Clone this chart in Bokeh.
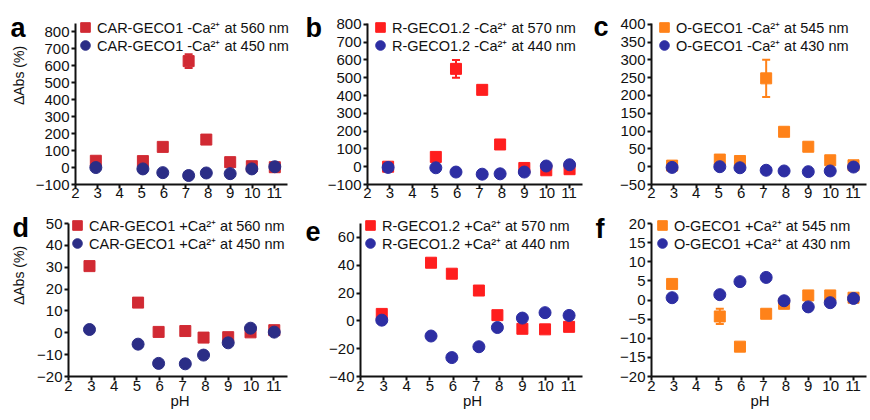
import math
from bokeh.plotting import figure
from bokeh.models import (ColumnDataSource, Whisker, Label, Legend, LegendItem,
                          Range1d, TeeHead)
from bokeh.layouts import column, row
from bokeh.embed import file_html
from bokeh.resources import INLINE
from bokeh.core.validation import silence
from bokeh.core.validation.warnings import MISSING_RENDERERS

silence(MISSING_RENDERERS, True)

FONT = "Liberation Sans"

# ---------------- data ----------------
ph = [2.92, 5.05, 5.95, 7.12, 7.92, 9.0, 9.98, 11.02]
x_ticks = [2, 3, 4, 5, 6, 7, 8, 9, 10, 11]

# a: CAR-GECO1 -Ca2+
a_red = [40, 38, 122, 628, 165, 32, 8, 2]
a_red_err = [0, 0, 0, 40, 0, 0, 0, 0]
a_blue = [0, -8, -30, -47, -32, -36, -8, 5]
a_ticks = [-100, 0, 100, 200, 300, 400, 500, 600, 700, 800]

# b: R-GECO1.2 -Ca2+
b_red = [0, 55, 550, 432, 125, -7, -20, -14]
b_red_err = [0, 0, 50, 0, 0, 0, 0, 0]
b_blue = [-4, -6, -30, -42, -40, -30, 4, 11]
b_ticks = [-100, 0, 100, 200, 300, 400, 500, 600, 700, 800]

# c: O-GECO1 -Ca2+
c_orange = [3, 20, 16, 248, 98, 56, 18, 4]
c_orange_err = [0, 0, 0, 52, 0, 0, 0, 0]
c_blue = [-2, 0, -3, -10, -12, -14, -12, -1]
c_ticks = [-50, 0, 50, 100, 150, 200, 250, 300, 350, 400]

# d: CAR-GECO1 +Ca2+
d_red = [30.5, 13.8, 0.4, 0.8, -2.2, -2.0, 0.2, 1.2]
d_red_err = [0, 0, 0, 0, 0, 0, 0, 0]
d_blue = [1.5, -5.2, -14, -14.2, -10.2, -4.6, 2.1, 0.3]
d_ticks = [-20, -10, 0, 10, 20, 30, 40, 50]

# e: R-GECO1.2 +Ca2+
e_red = [5, 41.8, 33.9, 21.8, 4.1, -5.7, -6.1, -4.3]
e_red_err = [0, 0, 0, 0, 0, 0, 0, 0]
e_blue = [0.5, -10.9, -26.4, -18.6, -4.8, 2, 5.9, 3.9]
e_ticks = [-40, -20, 0, 20, 40, 60]

# f: O-GECO1 +Ca2+
f_orange = [4.2, -4.3, -12.2, -3.6, -1.0, 1.2, 1.2, 0.6]
f_orange_err = [0, 2, 0, 0, 0, 0, 0, 0]
f_blue = [0.6, 1.4, 4.8, 5.9, -0.2, -1.8, -0.7, 0.4]
f_ticks = [-20, -15, -10, -5, 0, 5, 10, 15, 20]

labels = {
    "a": ("CAR-GECO1 -Ca²⁺ at 560 nm", "CAR-GECO1 -Ca²⁺ at 450 nm"),
    "b": ("R-GECO1.2 -Ca²⁺ at 570 nm", "R-GECO1.2 -Ca²⁺ at 440 nm"),
    "c": ("O-GECO1 -Ca²⁺ at 545 nm", "O-GECO1 -Ca²⁺ at 430 nm"),
    "d": ("CAR-GECO1 +Ca²⁺ at 560 nm", "CAR-GECO1 +Ca²⁺ at 450 nm"),
    "e": ("R-GECO1.2 +Ca²⁺ at 570 nm", "R-GECO1.2 +Ca²⁺ at 440 nm"),
    "f": ("O-GECO1 +Ca²⁺ at 545 nm", "O-GECO1 +Ca²⁺ at 430 nm"),
}

CRIMSON = "#d12a33"
RED = "#ff1e1e"
ORANGE = "#ff8219"
NAVY = "#2b2d86"
BLUE = "#2d2ea3"
INK = "#111111"

# ---------------- layout (screen pixels, page origin at 0,0) ----------------
COLS = [dict(left=0, strip=32, bl=36, fw=223, axis=219),
        dict(left=291, strip=33, bl=36, fw=224, axis=222),
        dict(left=584, strip=31, bl=36, fw=217, axis=215)]
ROWS = [dict(top=0, h=213, bb=29, axis_top=23, s1=-1, s2=0),
        dict(top=213, h=207, bb=44, axis_top=223, s1=0, s2=-2)]
LEG_ROW = 24
STRIP_DY = 11


def frame_left(c):
    return c["left"] + c["strip"] + c["bl"]


def frame_bottom(r):
    return r["top"] + r["h"] - r["bb"]


def strip(col, rw, letter, let_x, let_base, ylab_center=None):
    c, r = COLS[col], ROWS[rw]
    fb = frame_bottom(r)
    s = figure(width=c["strip"], height=r["h"], x_range=Range1d(0, 1), y_range=Range1d(0, 1),
               x_axis_location=None, y_axis_location=None, output_backend="svg",
               toolbar_location=None, min_border_left=0, min_border_right=0,
               min_border_top=0, min_border_bottom=r["bb"])
    s.outline_line_color = None
    s.grid.visible = False
    s.background_fill_color = "white"
    s.border_fill_color = "white"
    s.add_layout(Label(x=let_x - c["left"], y=fb - let_base + STRIP_DY,
                       x_units="screen", y_units="screen", text=letter,
                       text_font=FONT, text_font_size="27px", text_font_style="bold",
                       text_color="#000000", text_baseline="alphabetic",
                       text_align="left"))
    if ylab_center is not None:
        s.add_layout(Label(x=18 - c["left"], y=fb - ylab_center + STRIP_DY,
                           x_units="screen", y_units="screen", text="ΔAbs (%)",
                           angle=math.pi / 2, text_font=FONT, text_font_size="14px",
                           text_color=INK, text_align="center", text_baseline="middle"))
    return s


def add_legend(p, c, fb, renderer, text, mx, my):
    vx = (mx - LEG_ROW / 2) - frame_left(c)
    vy = fb - (my + LEG_ROW / 2)
    p.add_layout(Legend(items=[LegendItem(label=text, renderers=[renderer])],
                        location=(vx, vy),
                        background_fill_alpha=0, border_line_alpha=0,
                        padding=0, margin=0, glyph_width=LEG_ROW, glyph_height=LEG_ROW,
                        spacing=0, label_standoff=-3, label_height=LEG_ROW,
                        label_text_font=FONT, label_text_font_size="14.5px",
                        label_text_color=INK))


def panel(letter, col, rw, ylo, yhi, yticks, sq, sq_err, ci, sq_color, ci_color,
          leg_x, leg_y1, leg_y2, xlab=False):
    c, r = COLS[col], ROWS[rw]
    fb = frame_bottom(r)
    ftop = r["top"]
    yend = ylo + (yhi - ylo) * (fb - ftop) / (fb - r["axis_top"])
    xend = 2 + 9.6 * c["fw"] / c["axis"]
    p = figure(width=c["bl"] + c["fw"], height=r["h"],
               x_range=Range1d(2, xend), y_range=Range1d(ylo, yend),
               output_backend="svg", toolbar_location=None,
               min_border_left=c["bl"], min_border_right=0,
               min_border_top=0, min_border_bottom=r["bb"])
    p.outline_line_color = None
    p.grid.visible = False
    p.background_fill_color = "white"
    p.border_fill_color = "white"
    p.xaxis.ticker = x_ticks
    p.yaxis.ticker = yticks
    p.yaxis.bounds = (ylo, yhi)
    p.xaxis.bounds = (2, 11.6)
    for ax in (p.xaxis, p.yaxis):
        ax.axis_line_width = 2
        ax.axis_line_color = INK
        ax.major_tick_line_width = 2
        ax.major_tick_line_color = INK
        ax.major_tick_out = 4
        ax.major_tick_in = 0
        ax.minor_tick_line_color = None
        ax.major_label_text_font = FONT
        ax.major_label_text_font_size = "15px"
        ax.major_label_text_color = INK
    p.yaxis.major_label_standoff = 2
    p.xaxis.major_label_standoff = r["s1"]
    if xlab:
        p.xaxis.axis_label = "pH"
        p.xaxis.axis_label_text_font = FONT
        p.xaxis.axis_label_text_font_size = "15px"
        p.xaxis.axis_label_text_font_style = "normal"
        p.xaxis.axis_label_text_color = INK
        p.xaxis.axis_label_standoff = r["s2"]

    ex = [x for x, e in zip(ph, sq_err) if e > 0]
    ey = [y for y, e in zip(sq, sq_err) if e > 0]
    ee = [e for e in sq_err if e > 0]
    if ex:
        esrc = ColumnDataSource(dict(x=ex, lower=[y - e for y, e in zip(ey, ee)],
                                     upper=[y + e for y, e in zip(ey, ee)]))
        p.add_layout(Whisker(base="x", lower="lower", upper="upper", source=esrc,
                             line_color=sq_color, line_width=2,
                             upper_head=TeeHead(size=8, line_color=sq_color, line_width=2),
                             lower_head=TeeHead(size=8, line_color=sq_color, line_width=2)))

    src = ColumnDataSource(dict(x=ph, sq=sq, ci=ci))
    r_sq = p.scatter("x", "sq", source=src, marker="square", size=11,
                     fill_color=sq_color, line_color=sq_color)
    r_ci = p.scatter("x", "ci", source=src, marker="circle", size=12,
                     fill_color=ci_color, line_color=ci_color)

    l1, l2 = labels[letter]
    add_legend(p, c, fb, r_sq, l1, leg_x, leg_y1)
    add_legend(p, c, fb, r_ci, l2, leg_x, leg_y2)
    return p


sa = strip(0, 0, "a", 10, 38, ylab_center=86)
sb = strip(1, 0, "b", 305, 38)
sc = strip(2, 0, "c", 593, 37)
sd = strip(0, 1, "d", 12, 238, ylab_center=286)
se = strip(1, 1, "e", 305, 242)
sf = strip(2, 1, "f", 595, 239)

pa = panel("a", 0, 0, -100, 850, a_ticks, a_red, a_red_err, a_blue, CRIMSON, NAVY, 78, 27, 45)
pb = panel("b", 1, 0, -100, 805, b_ticks, b_red, b_red_err, b_blue, RED, BLUE, 373, 27, 45)
pc = panel("c", 2, 0, -50, 402, c_ticks, c_orange, c_orange_err, c_blue, ORANGE, BLUE, 664, 27, 45)
pd = panel("d", 0, 1, -20, 50, d_ticks, d_red, d_red_err, d_blue, CRIMSON, NAVY, 77, 225, 243, xlab=True)
pe = panel("e", 1, 1, -40, 70, e_ticks, e_red, e_red_err, e_blue, RED, BLUE, 370, 225, 243, xlab=True)
pf = panel("f", 2, 1, -20, 20, f_ticks, f_orange, f_orange_err, f_blue, ORANGE, BLUE, 662, 225, 243, xlab=True)

layout = column(row(sa, pa, sb, pb, sc, pc), row(sd, pd, se, pe, sf, pf))

with open("out.html", "w") as fh_:
    fh_.write(file_html(layout, INLINE))
